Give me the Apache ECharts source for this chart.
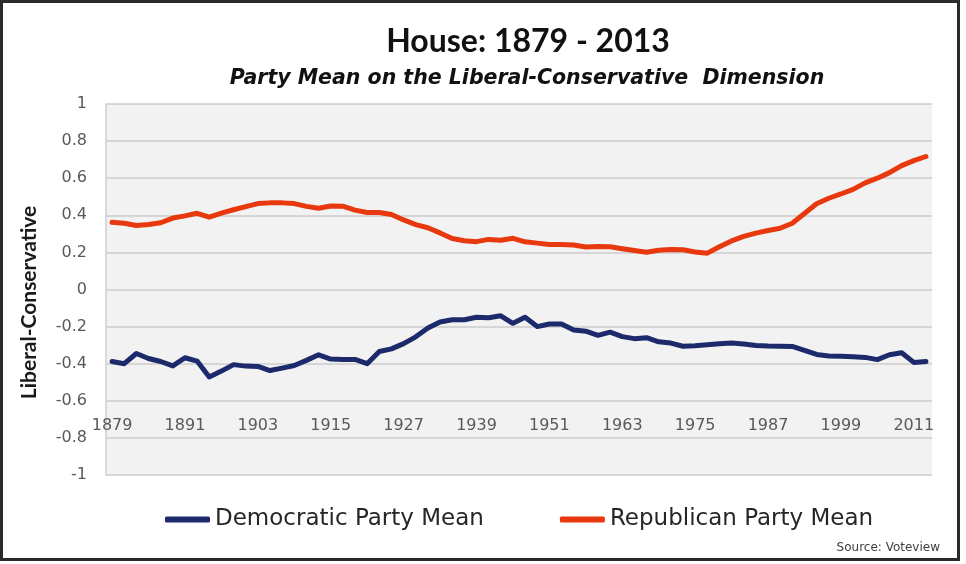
<!DOCTYPE html>
<html>
<head>
<meta charset="utf-8">
<script src="https://cdn.jsdelivr.net/npm/echarts@6/dist/echarts.min.js"></script>
<style>
html,body{margin:0;padding:0;background:#fff;}
#chart{width:966px;height:564px;}
</style>
</head>
<body>
<div id="chart"></div>
<script>
// Congress start years (every 2 years, 1879-2013)
const years = [];
for (let y = 1879; y <= 2013; y += 2) years.push(String(y));

const democraticMean = [
  -0.388, -0.400, -0.345, -0.372, -0.388, -0.412, -0.368, -0.386, -0.472, -0.440,
  -0.405, -0.413, -0.415, -0.437, -0.424, -0.410, -0.382, -0.352, -0.375, -0.377,
  -0.377, -0.400, -0.334, -0.320, -0.292, -0.255, -0.208, -0.175, -0.163, -0.163,
  -0.150, -0.152, -0.142, -0.182, -0.150, -0.200, -0.186, -0.186, -0.218, -0.225,
  -0.247, -0.230, -0.254, -0.265, -0.260, -0.282, -0.289, -0.306, -0.303, -0.298,
  -0.293, -0.289, -0.294, -0.302, -0.305, -0.306, -0.307, -0.328, -0.350, -0.358,
  -0.360, -0.362, -0.366, -0.378, -0.352, -0.341, -0.393, -0.388
];

const republicanMean = [
  0.362, 0.357, 0.345, 0.350, 0.360, 0.385, 0.397, 0.411, 0.390, 0.412,
  0.430, 0.447, 0.463, 0.467, 0.467, 0.463, 0.448, 0.438, 0.450, 0.449,
  0.428, 0.415, 0.415, 0.404, 0.375, 0.350, 0.333, 0.305, 0.275, 0.263,
  0.258, 0.270, 0.266, 0.276, 0.257, 0.250, 0.243, 0.243, 0.240, 0.229,
  0.232, 0.230, 0.220, 0.210, 0.201, 0.212, 0.216, 0.214, 0.202, 0.196,
  0.230, 0.262, 0.286, 0.304, 0.318, 0.330, 0.357, 0.410, 0.462, 0.492,
  0.515, 0.540, 0.575, 0.600, 0.630, 0.668, 0.695, 0.717
];

const seriesNames = ['Democratic Party Mean', 'Republican Party Mean'];
const titleText = 'House: 1879 - 2013';
const subtitleText = 'Party Mean on the Liberal-Conservative  Dimension';
const yAxisName = 'Liberal-Conservative';
const sourceText = 'Source: Voteview';

const LATO = 'Lato, "Liberation Sans", sans-serif';
const WIDE = '"DejaVu Sans", Verdana, sans-serif';
const chart = echarts.init(document.getElementById('chart'), null, {renderer: 'canvas'});

chart.setOption({
  backgroundColor: '#ffffff',
  animation: false,
  title: [
    {
      text: titleText,
      left: 523, top: 21, textAlign: 'center',
      textStyle: {fontFamily: LATO, fontSize: 32, fontWeight: 'bold', color: '#111'}
    },
    {
      text: subtitleText,
      left: 522, top: 64, textAlign: 'center',
      textStyle: {fontFamily: WIDE, fontSize: 20.5, fontWeight: 'bold', fontStyle: 'italic', color: '#111'}
    }
  ],
  grid: {left: 106, right: 34, top: 104, bottom: 89, containLabel: false,
         show: true, backgroundColor: '#f2f2f2', borderWidth: 0},
  legend: {
    data: seriesNames,
    left: 160, top: 503,
    icon: 'roundRect',
    itemWidth: 45, itemHeight: 6,
    itemGap: 76,
    textStyle: {fontFamily: WIDE, fontSize: 23, color: '#262626'}
  },
  xAxis: {
    type: 'category',
    data: years,
    boundaryGap: true,
    axisLine: {show: false},
    axisTick: {show: false},
    splitLine: {show: false},
    axisLabel: {interval: 5, margin: -57, fontFamily: WIDE, fontSize: 16, color: '#595959'}
  },
  yAxis: {
    type: 'value',
    min: -1, max: 1, interval: 0.2,
    name: yAxisName,
    nameLocation: 'middle',
    nameGap: 66,
    nameRotate: 90,
    nameTextStyle: {fontFamily: LATO, fontSize: 21, fontWeight: 'bold', color: '#1a1a1a',
                    padding: [0, 26, 0, 0]},
    axisLine: {show: true, lineStyle: {color: '#d0d0d0', width: 1.5}},
    axisTick: {show: false},
    splitLine: {show: true, lineStyle: {color: '#cdcdcd', width: 1.5}},
    axisLabel: {margin: 19, fontFamily: WIDE, fontSize: 16, color: '#595959',
                formatter: v => String(Math.round(v * 10) / 10)}
  },
  series: [
    {
      name: seriesNames[0], type: 'line', data: democraticMean,
      showSymbol: false, symbol: 'none',
      lineStyle: {color: '#1c2a6c', width: 5, cap: 'round', join: 'round'},
      itemStyle: {color: '#1c2a6c'}
    },
    {
      name: seriesNames[1], type: 'line', data: republicanMean,
      showSymbol: false, symbol: 'none',
      lineStyle: {color: '#e8380d', width: 5, cap: 'round', join: 'round'},
      itemStyle: {color: '#e8380d'}
    }
  ],
  graphic: [
    {
      type: 'rect', silent: true, z: 100,
      shape: {x: 1.5, y: 1.5, width: 957, height: 558},
      style: {fill: null, stroke: '#2a2a2a', lineWidth: 3}
    },
    {
      type: 'text', right: 26, top: 542, z: 100,
      style: {text: sourceText, font: '12px ' + WIDE, fill: '#404040'}
    }
  ]
});
</script>
</body>
</html>
